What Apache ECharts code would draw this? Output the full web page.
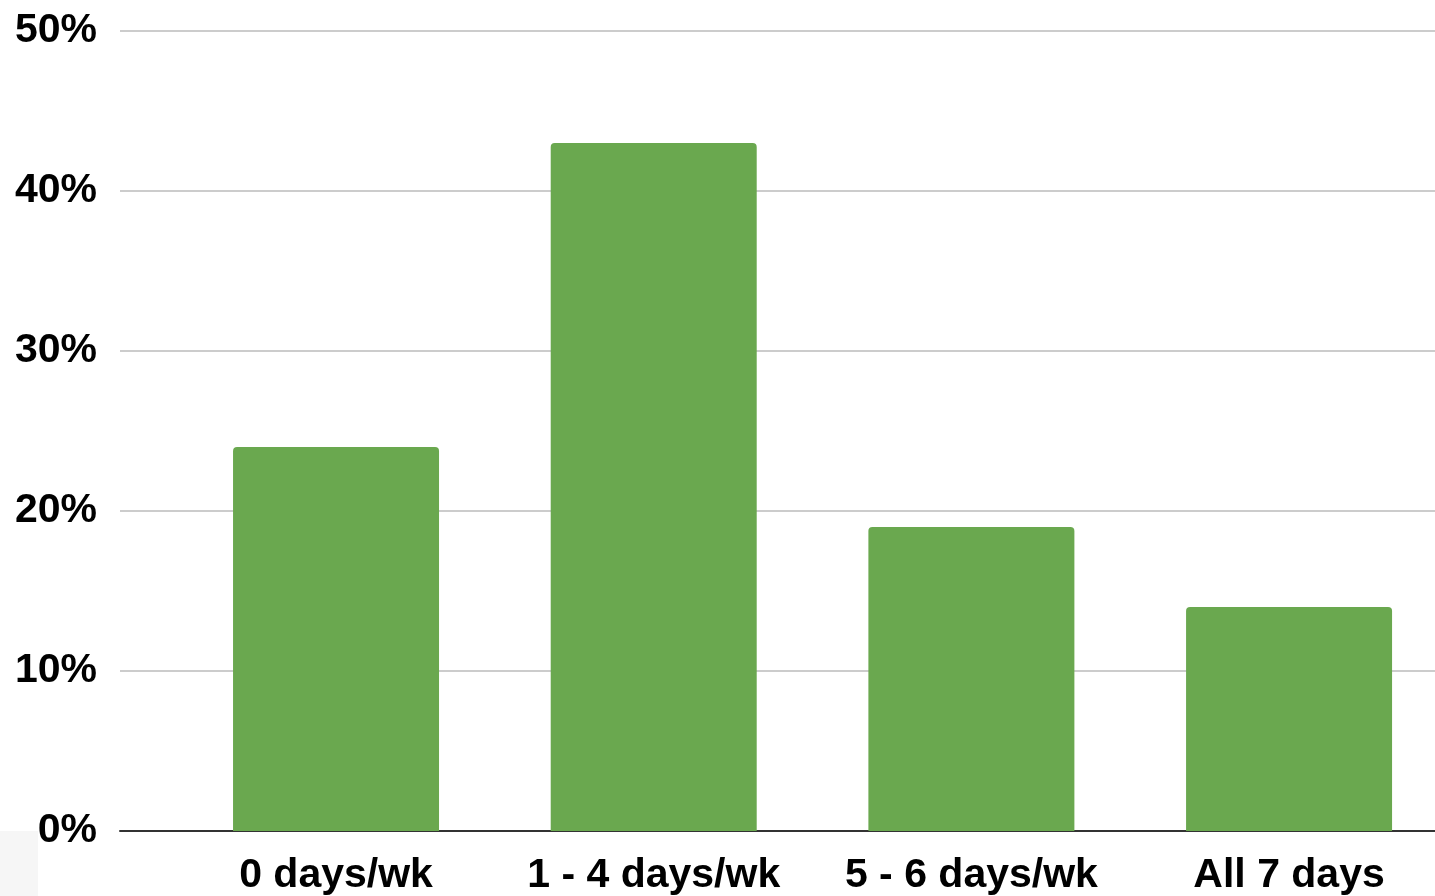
<!DOCTYPE html>
<html>
<head>
<meta charset="utf-8">
<script src="https://cdn.jsdelivr.net/npm/echarts@6/dist/echarts.min.js"></script>
<style>
  html, body { margin: 0; padding: 0; background: #ffffff; }
  #chart { width: 1435px; height: 896px; }
</style>
</head>
<body>
<div id="chart"></div>
<script>
// Days per week breakdown
const categories = ['0 days/wk', '1 - 4 days/wk', '5 - 6 days/wk', 'All 7 days'];
const shares = [24, 43, 19, 14];
const yTicks = { min: 0, max: 50, step: 10 };

const FONT = '"Liberation Sans", Arial, sans-serif';
const chart = echarts.init(document.getElementById('chart'), null, { renderer: 'canvas' });

chart.setOption({
  backgroundColor: '#ffffff',
  animation: false,
  graphic: [{
    type: 'rect',
    z: -1,
    shape: { x: 0, y: 831, width: 38, height: 65 },
    style: { fill: '#f6f6f6' }
  }],
  grid: [
    // frame: gridlines, percent labels and baseline
    { left: 120, right: 0, top: 31, bottom: 65, containLabel: false, outerBoundsMode: 'none' },
    // bars and category labels (last band runs past the right edge)
    { left: 177.2, width: 1270.7, top: 31, bottom: 65, containLabel: false, outerBoundsMode: 'none' }
  ],
  xAxis: [
    {
      gridIndex: 0, type: 'value', min: 0, max: 1,
      axisLine: { show: true, onZero: false, lineStyle: { color: '#333333', width: 2 } },
      axisTick: { show: false }, axisLabel: { show: false }, splitLine: { show: false }
    },
    {
      gridIndex: 1, type: 'category', data: categories,
      axisLine: { show: false }, axisTick: { show: false }, splitLine: { show: false },
      axisLabel: {
        margin: 24, color: '#000000', fontFamily: FONT, fontWeight: 'bold',
        fontSize: 41, lineHeight: 41, interval: 0
      }
    }
  ],
  yAxis: [
    {
      gridIndex: 0, type: 'value', min: yTicks.min, max: yTicks.max, interval: yTicks.step,
      axisLine: { show: false }, axisTick: { show: false },
      axisLabel: {
        formatter: '{value}%', margin: 23, color: '#000000',
        fontFamily: FONT, fontWeight: 'bold', fontSize: 41
      },
      splitLine: { show: true, lineStyle: { color: '#cccccc', width: 2 } }
    },
    {
      gridIndex: 1, type: 'value', min: yTicks.min, max: yTicks.max, interval: yTicks.step,
      show: false, splitLine: { show: false }
    }
  ],
  series: [{
    type: 'bar',
    xAxisIndex: 1, yAxisIndex: 1,
    data: shares,
    barWidth: 206,
    z: 1,
    itemStyle: { color: '#6aa84f', borderRadius: [4, 4, 0, 0] }
  }]
});
</script>
</body>
</html>
